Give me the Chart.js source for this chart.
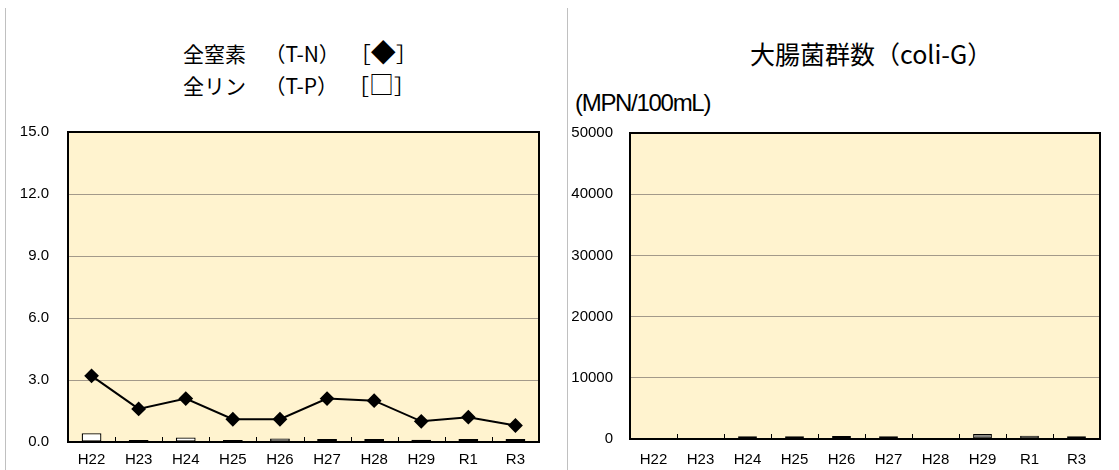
<!DOCTYPE html>
<html>
<head>
<meta charset="utf-8">
<script src="https://cdn.jsdelivr.net/npm/chart.js@4"></script>
<style>
  body { margin: 0; width: 1119px; height: 470px; background: #fff; position: relative; overflow: hidden;
         font-family: "Noto Sans CJK JP", sans-serif; }
  .vline { position: absolute; top: 8px; bottom: 0; width: 1px; background: #c0c0c0; }
  .title { position: absolute; white-space: nowrap; color: #000; }
  .title .p { display: inline-block; margin-left: 8px; }
  .title .b { display: inline-block; margin-left: 10px; }
  .title .d { font-size: 25px; }
  .unit { position: absolute; left: 575px; top: 89px; font-family: "Liberation Sans", sans-serif;
          font-size: 24px; letter-spacing: -1.3px; color: #000; }
  canvas { position: absolute; top: 0; }
</style>
</head>
<body>
<div class="vline" style="left:5px"></div>
<div class="vline" style="left:567px"></div>
<div class="title" style="left:183px; top:36px; font-size:21px; line-height:30px">全窒素<span class="p">　（T-N）</span><span class="b">［<span class="d">◆</span>］</span><br>全リン<span class="p">　（T-P）</span><span class="b">［<span class="d">□</span>］</span></div>
<div class="title" style="left:750px; top:37px; font-size:25px; line-height:32px">大腸菌群数（coli-G）</div>
<div class="unit">(MPN/100mL)</div>
<canvas id="c1" width="560" height="470" style="left:0"></canvas>
<canvas id="c2" width="549" height="470" style="left:570px"></canvas>
<script>
// categories and values
const years = ['H22', 'H23', 'H24', 'H25', 'H26', 'H27', 'H28', 'H29', 'R1', 'R3'];
const tnValues = [3.2, 1.6, 2.1, 1.1, 1.1, 2.1, 2.0, 1.0, 1.2, 0.8];
const tpValues = [0.42, 0.10, 0.22, 0.10, 0.17, 0.14, 0.14, 0.11, 0.14, 0.14];
const coliValues = [0, 0, 450, 450, 500, 450, 0, 800, 550, 450];

const tnAxis = { min: 0, max: 15, step: 3 };
const coliAxis = { min: 0, max: 50000, step: 10000 };

const tickFont = { family: '"Liberation Sans", Arial, sans-serif', size: 15 };

// plot background, frame and the little category ticks on the bottom edge
const plotFrame = {
  id: 'plotFrame',
  beforeDraw(chart) {
    const a = chart.chartArea, ctx = chart.ctx;
    ctx.save();
    ctx.fillStyle = '#fff3cf';
    ctx.fillRect(a.left, a.top, a.right - a.left, a.bottom - a.top);
    ctx.restore();
  },
  afterDatasetsDraw(chart) {
    const a = chart.chartArea, ctx = chart.ctx, x = chart.scales.x;
    ctx.save();
    ctx.strokeStyle = '#000';
    ctx.lineWidth = 1;
    for (let i = 1; i < years.length; i++) {
      const px = Math.round((x.getPixelForValue(i - 1) + x.getPixelForValue(i)) / 2) + 0.5;
      ctx.beginPath();
      ctx.moveTo(px, a.bottom);
      ctx.lineTo(px, a.bottom - 5);
      ctx.stroke();
    }
    ctx.lineWidth = 2;
    ctx.strokeRect(a.left, a.top, a.right - a.left, a.bottom - a.top);
    ctx.restore();
  }
};

function makeScales(axis, yWidth, yPad, xPad, decimals) {
  return {
    x: {
      grid: { display: false, drawTicks: false },
      border: { display: false },
      ticks: { color: '#000', font: tickFont, padding: xPad, maxRotation: 0 },
      afterFit(s) { s.height = 470 - 443; }
    },
    y: {
      min: axis.min, max: axis.max,
      grid: { color: '#a3998a', lineWidth: 1, drawTicks: false },
      border: { display: false },
      ticks: {
        stepSize: axis.step, color: '#000', font: tickFont, padding: yPad,
        callback: v => decimals ? Number(v).toFixed(decimals) : String(v)
      },
      afterFit(s) { s.width = yWidth; }
    }
  };
}

new Chart(document.getElementById('c1'), {
  type: 'bar',
  data: {
    labels: years,
    datasets: [
      {
        type: 'line', label: 'T-N', data: tnValues, order: 0,
        borderColor: '#000', borderWidth: 2, backgroundColor: '#000',
        pointStyle: 'rectRot', pointRadius: 6, pointHoverRadius: 6, tension: 0
      },
      {
        type: 'bar', label: 'T-P', data: tpValues, order: 1,
        backgroundColor: '#fff', borderColor: '#000', borderWidth: 1.3, borderSkipped: false,
        categoryPercentage: 1, barPercentage: 0.42
      }
    ]
  },
  options: {
    responsive: false, animation: false,
    layout: { padding: { top: 132, right: 21, bottom: 0, left: 0 } },
    plugins: { legend: { display: false }, tooltip: { enabled: false } },
    scales: makeScales(tnAxis, 68, 19, 9, 1)
  },
  plugins: [plotFrame]
});

new Chart(document.getElementById('c2'), {
  type: 'bar',
  data: {
    labels: years,
    datasets: [
      {
        label: 'coli-G', data: coliValues,
        backgroundColor: '#7f7f7f', borderColor: '#000', borderWidth: 1.2, borderSkipped: false,
        categoryPercentage: 1, barPercentage: 0.4
      }
    ]
  },
  options: {
    responsive: false, animation: false,
    layout: { padding: { top: 133, right: 19, bottom: 4, left: 0 } },
    plugins: { legend: { display: false }, tooltip: { enabled: false } },
    scales: makeScales(coliAxis, 60, 17, 12, 0)
  },
  plugins: [plotFrame]
});
</script>
</body>
</html>
